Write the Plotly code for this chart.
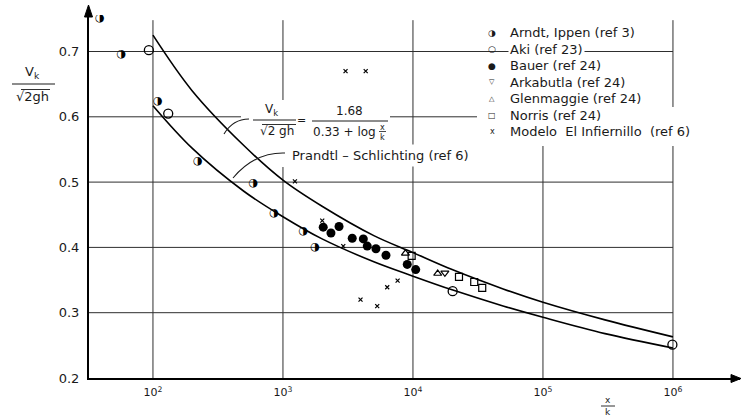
import plotly.graph_objects as go

# ---------------- data ----------------
arndt_x = [39, 57, 109, 221, 591, 853, 1432, 1762]
arndt_y = [0.751, 0.696, 0.624, 0.532, 0.498, 0.452, 0.425, 0.400]

aki_x = [93, 131, 20200, 990000]
aki_y = [0.702, 0.605, 0.333, 0.251]

bauer_x = [2040, 2340, 2700, 3410, 4150, 4450, 5190, 6200, 9040, 10500]
bauer_y = [0.431, 0.422, 0.432, 0.414, 0.413, 0.402, 0.398, 0.388, 0.374, 0.366]

arkabutla_x = [17600]
arkabutla_y = [0.361]

glenmaggie_x = [8750, 15500]
glenmaggie_y = [0.391, 0.360]

norris_x = [9770, 22600, 29600, 34100]
norris_y = [0.387, 0.355, 0.347, 0.338]

modelo_x = [1236, 2006, 2910, 3030, 4330, 3950, 5310, 6340, 7620]
modelo_y = [0.501, 0.441, 0.402, 0.670, 0.670, 0.320, 0.310, 0.339, 0.349]

curve_x = [100, 200, 500, 1000, 2000, 5000, 10000, 20000, 50000, 100000, 300000, 1000000]
formula_y = [0.725, 0.640, 0.556, 0.503, 0.463, 0.418, 0.392, 0.366, 0.336, 0.316, 0.289, 0.263]
prandtl_y = [0.617, 0.552, 0.486, 0.447, 0.413, 0.378, 0.356, 0.335, 0.310, 0.293, 0.268, 0.246]

grid_x = [1e2, 1e3, 1e4, 1e5, 1e6]
grid_y = [0.3, 0.4, 0.5, 0.6, 0.7]
x_tick_vals = [1e2, 1e3, 1e4, 1e5, 1e6]
x_tick_text = ["10<sup>2</sup>", "10<sup>3</sup>", "10<sup>4</sup>", "10<sup>5</sup>", "10<sup>6</sup>"]
y_tick_vals = [0.2, 0.3, 0.4, 0.5, 0.6, 0.7]
y_tick_text = ["0.2", "0.3", "0.4", "0.5", "0.6", "0.7"]

legend_symbols = ["\u25D1", "\u25CB", "\u25CF", "\u25BD", "\u25B3", "\u25A1", "x"]
legend_labels = ["Arndt, Ippen (ref 3)", "Aki (ref 23)", "Bauer (ref 24)",
                 "Arkabutla (ref 24)", "Glenmaggie (ref 24)", "Norris (ref 24)",
                 "Modelo  El Infiernillo  (ref 6)"]

# ---------------- geometry ----------------
W, H = 741, 419
L, R, T, B = 89, 1, 15, 41
PW = W - L - R
PH = H - T - B
X_MIN_LOG = 1.508
X_MAX_LOG = X_MIN_LOG + PW / 130.0
Y_MIN = 0.2
Y_MAX = Y_MIN + PH * (0.1 / 65.3)
GRID_TOP = 0.748

FONT = "DejaVu Sans"
INK = "#1a1a1a"


def px(x):
    return (x - L) / PW


def py(y):
    return (H - B - y) / PH


fig = go.Figure()

# gridlines
gx, gy = [], []
for v in grid_x:
    gx += [v, v, None]
    gy += [Y_MIN, GRID_TOP, None]
for v in grid_y:
    gx += [10 ** X_MIN_LOG, grid_x[-1], None]
    gy += [v, v, None]
fig.add_trace(go.Scatter(x=gx, y=gy, mode="lines", line=dict(color="#2e2e2e", width=1),
                         hoverinfo="skip", showlegend=False))

# curves
fig.add_trace(go.Scatter(x=curve_x, y=formula_y, mode="lines",
                         line=dict(color="black", width=1.6, shape="spline", smoothing=1.0),
                         name="1.68/(0.33+log x/k)", showlegend=False))
fig.add_trace(go.Scatter(x=curve_x, y=prandtl_y, mode="lines",
                         line=dict(color="black", width=1.6, shape="spline", smoothing=1.0),
                         name="Prandtl - Schlichting (ref 6)", showlegend=False))

# data points
fig.add_trace(go.Scatter(x=arndt_x, y=arndt_y, mode="text", text=["\u25D1"] * len(arndt_x),
                         textposition="middle center",
                         textfont=dict(family=FONT, size=11, color="black"),
                         name=legend_labels[0], showlegend=False))
fig.add_trace(go.Scatter(x=aki_x, y=aki_y, mode="markers",
                         marker=dict(symbol="circle-open", size=9, color="black", line=dict(width=1.3)),
                         name=legend_labels[1], showlegend=False))
fig.add_trace(go.Scatter(x=bauer_x, y=bauer_y, mode="markers",
                         marker=dict(symbol="circle", size=9, color="black"),
                         name=legend_labels[2], showlegend=False))
fig.add_trace(go.Scatter(x=arkabutla_x, y=arkabutla_y, mode="markers",
                         marker=dict(symbol="triangle-down-open", size=7, color="black", line=dict(width=1.2)),
                         name=legend_labels[3], showlegend=False))
fig.add_trace(go.Scatter(x=glenmaggie_x, y=glenmaggie_y, mode="markers",
                         marker=dict(symbol="triangle-up-open", size=7, color="black", line=dict(width=1.2)),
                         name=legend_labels[4], showlegend=False))
fig.add_trace(go.Scatter(x=norris_x, y=norris_y, mode="markers",
                         marker=dict(symbol="square-open", size=7, color="black", line=dict(width=1.2)),
                         name=legend_labels[5], showlegend=False))
fig.add_trace(go.Scatter(x=modelo_x, y=modelo_y, mode="markers",
                         marker=dict(symbol="x-thin", size=4, color="black", line=dict(width=1.2, color="black")),
                         name=legend_labels[6], showlegend=False))

shapes = []
annotations = []


def white_rect(x0, y0, x1, y1):
    shapes.append(dict(type="rect", xref="paper", yref="paper", x0=px(x0), x1=px(x1),
                       y0=py(y1), y1=py(y0), fillcolor="white", line=dict(width=0), layer="above"))


def hline(x0, x1, y, w=1.0):
    shapes.append(dict(type="line", xref="paper", yref="paper", x0=px(x0), x1=px(x1),
                       y0=py(y), y1=py(y), line=dict(color=INK, width=w), layer="above"))


def tri(pts):
    d = "M " + " L ".join(f"{px(a)},{py(b)}" for a, b in pts) + " Z"
    shapes.append(dict(type="path", xref="paper", yref="paper", path=d,
                       fillcolor="black", line=dict(color="black", width=1), layer="above"))


def text(x, y, s, size=13, xanchor="center", bg=None, pad=1):
    a = dict(xref="paper", yref="paper", x=px(x), y=py(y), text=s, showarrow=False,
             xanchor=xanchor, yanchor="middle", font=dict(family=FONT, size=size, color=INK))
    if bg:
        a["bgcolor"] = bg
        a["borderpad"] = pad
    annotations.append(a)


# masks behind labels (as in the reference drawing)
white_rect(241, 102, 390, 140)
white_rect(278, 100, 289, 167)
white_rect(477, 107, 700, 146)
white_rect(535, 18, 550, 30)

# formula label
text(271, 110, "V<sub>k</sub>", size=12)
hline(253, 296, 120)
text(277, 131, "\u221A2 gh", size=12)
hline(262, 296, 124.5, 0.9)
text(301, 121, "=", size=11)
text(349, 111, "1.68", size=12)
hline(312, 388, 121)
text(344, 132, "0.33 + log", size=12)
text(382, 127, "x", size=8)
hline(379, 386, 131.5, 0.8)
text(382, 137, "k", size=8)

# Prandtl label
text(288, 155, "Prandtl \u2013 Schlichting (ref 6)", size=13, xanchor="left", bg="white", pad=3)

# leader lines
shapes.append(dict(type="path", xref="paper", yref="paper",
                   path=f"M {px(249)},{py(119)} Q {px(233)},{py(119)} {px(224)},{py(134)}",
                   line=dict(color=INK, width=1.1), layer="above"))
shapes.append(dict(type="path", xref="paper", yref="paper",
                   path=f"M {px(285)},{py(153)} Q {px(255)},{py(152)} {px(233)},{py(178)}",
                   line=dict(color=INK, width=1.1), layer="above"))

# legend (drawn as text)
legend_sizes = [9, 9, 9, 7, 7, 8, 8]
for i, (sym, lab) in enumerate(zip(legend_symbols, legend_labels)):
    yy = 33 + i * 16.4
    text(492, yy, sym, size=legend_sizes[i])
    text(508, yy, lab, size=13, xanchor="left", bg="white", pad=1)

# y-axis title
text(33, 73, "V<sub>k</sub>", size=13)
hline(12, 55, 84, 1.2)
text(32, 96, "\u221A2gh", size=13)
hline(21, 50, 89.5, 0.9)

# x-axis title
text(608, 400, "x", size=9)
hline(601, 615, 406, 0.9)
text(608, 412, "k", size=9)

# axis arrowheads
tri([(88.5, 5), (84.5, 17), (92.5, 17)])
tri([(741, 378.5), (731, 374.5), (731, 382.5)])

fig.update_layout(
    width=W, height=H,
    margin=dict(l=L, r=R, t=T, b=B, pad=0),
    paper_bgcolor="white", plot_bgcolor="white",
    showlegend=False,
    shapes=shapes, annotations=annotations,
    font=dict(family=FONT, color=INK),
    xaxis=dict(type="log", range=[X_MIN_LOG, X_MAX_LOG], showgrid=False, zeroline=False,
               showline=True, linecolor="black", linewidth=2, ticks="",
               ticklabelstandoff=3,
               tickvals=x_tick_vals, ticktext=x_tick_text,
               tickfont=dict(family=FONT, size=11, color=INK)),
    yaxis=dict(range=[Y_MIN, Y_MAX], showgrid=False, zeroline=False,
               showline=True, linecolor="black", linewidth=2, ticks="",
               ticklabelstandoff=5,
               tickvals=y_tick_vals, ticktext=y_tick_text,
               tickfont=dict(family=FONT, size=13, color=INK)),
)

fig.write_html("out.html")
